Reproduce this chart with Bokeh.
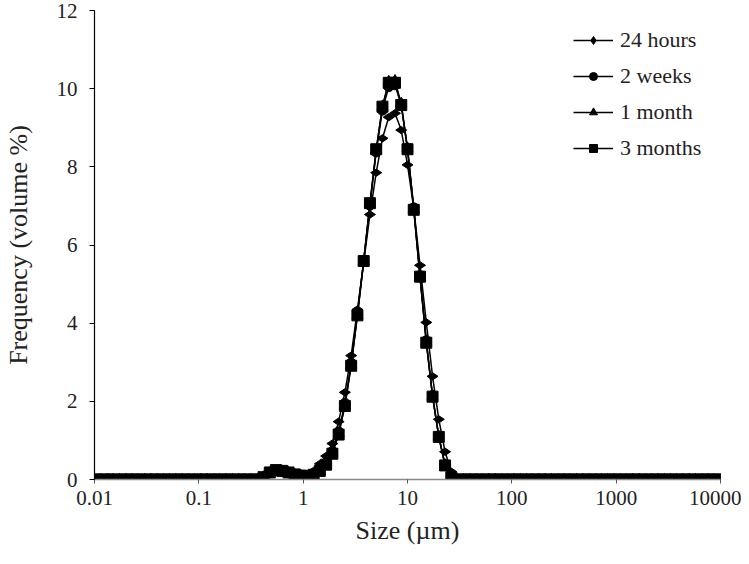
import numpy as np
from bokeh.plotting import figure
from bokeh.models import Range1d, FixedTicker, Legend, LegendItem
from bokeh.embed import file_html
from bokeh.resources import INLINE

# Size classes (µm)
sizes_um = [0.0100, 0.0115, 0.0132, 0.0151, 0.0174, 0.0200, 0.0229, 0.0263, 0.0302, 0.0347,
            0.0398, 0.0457, 0.0525, 0.0603, 0.0692, 0.0794, 0.0912, 0.105, 0.120, 0.138,
            0.158, 0.182, 0.209, 0.240, 0.275, 0.316, 0.363, 0.417, 0.479, 0.550,
            0.631, 0.724, 0.832, 0.955, 1.096, 1.259, 1.445, 1.660, 1.905, 2.188,
            2.512, 2.884, 3.311, 3.802, 4.365, 5.012, 5.754, 6.607, 7.586, 8.710,
            10.00, 11.48, 13.18, 15.14, 17.38, 19.95, 22.91, 26.30, 30.20, 34.67,
            39.81, 45.71, 52.48, 60.26, 69.18, 79.43, 91.20, 104.7, 120.2, 138.0,
            158.5, 182.0, 208.9, 239.9, 275.4, 316.2, 363.1, 416.9, 478.6, 549.5,
            631.0, 724.4, 831.8, 955.0, 1096, 1259, 1445, 1660, 1905, 2188,
            2512, 2884, 3311, 3802, 4365, 5012, 5754, 6607, 7586, 8710,
            10000]

hours_24 = [0, 0, 0, 0, 0, 0, 0, 0, 0, 0,
            0, 0, 0, 0, 0, 0, 0, 0, 0, 0,
            0, 0, 0, 0, 0, 0, 0, 0.07, 0.19, 0.25,
            0.23, 0.18, 0.14, 0.11, 0.12, 0.22, 0.40, 0.60, 0.92, 1.48,
            2.23, 3.17, 4.35, 5.55, 6.78, 7.85, 8.73, 9.27, 9.37, 8.94,
            8.05, 6.95, 5.48, 4.02, 2.64, 1.54, 0.71, 0.20, 0.02, 0,
            0, 0, 0, 0, 0, 0, 0, 0, 0, 0,
            0, 0, 0, 0, 0, 0, 0, 0, 0, 0,
            0, 0, 0, 0, 0, 0, 0, 0, 0, 0,
            0, 0, 0, 0, 0, 0, 0, 0, 0, 0,
            0]

weeks_2 = [0, 0, 0, 0, 0, 0, 0, 0, 0, 0,
           0, 0, 0, 0, 0, 0, 0, 0, 0, 0,
           0, 0, 0, 0, 0, 0, 0, 0.06, 0.17, 0.23,
           0.21, 0.17, 0.12, 0.09, 0.09, 0.13, 0.24, 0.42, 0.72, 1.22,
           1.95, 2.98, 4.25, 5.60, 7.02, 8.38, 9.45, 10.05, 10.10, 9.58,
           8.48, 6.95, 5.22, 3.55, 2.15, 1.10, 0.38, 0.06, 0, 0,
           0, 0, 0, 0, 0, 0, 0, 0, 0, 0,
           0, 0, 0, 0, 0, 0, 0, 0, 0, 0,
           0, 0, 0, 0, 0, 0, 0, 0, 0, 0,
           0, 0, 0, 0, 0, 0, 0, 0, 0, 0,
           0]

month_1 = [0, 0, 0, 0, 0, 0, 0, 0, 0, 0,
           0, 0, 0, 0, 0, 0, 0, 0, 0, 0,
           0, 0, 0, 0, 0, 0, 0, 0.06, 0.17, 0.22,
           0.21, 0.17, 0.12, 0.09, 0.08, 0.11, 0.21, 0.37, 0.68, 1.17,
           1.90, 2.93, 4.20, 5.58, 7.05, 8.42, 9.55, 10.18, 10.20, 9.62,
           8.47, 6.92, 5.18, 3.52, 2.13, 1.10, 0.37, 0.05, 0, 0,
           0, 0, 0, 0, 0, 0, 0, 0, 0, 0,
           0, 0, 0, 0, 0, 0, 0, 0, 0, 0,
           0, 0, 0, 0, 0, 0, 0, 0, 0, 0,
           0, 0, 0, 0, 0, 0, 0, 0, 0, 0,
           0]

months_3 = [0, 0, 0, 0, 0, 0, 0, 0, 0, 0,
            0, 0, 0, 0, 0, 0, 0, 0, 0, 0,
            0, 0, 0, 0, 0, 0, 0, 0.06, 0.18, 0.24,
            0.22, 0.18, 0.13, 0.10, 0.09, 0.12, 0.22, 0.38, 0.66, 1.15,
            1.88, 2.91, 4.20, 5.59, 7.07, 8.45, 9.54, 10.15, 10.15, 9.58,
            8.45, 6.90, 5.19, 3.50, 2.12, 1.09, 0.36, 0.05, 0, 0,
            0, 0, 0, 0, 0, 0, 0, 0, 0, 0,
            0, 0, 0, 0, 0, 0, 0, 0, 0, 0,
            0, 0, 0, 0, 0, 0, 0, 0, 0, 0,
            0, 0, 0, 0, 0, 0, 0, 0, 0, 0,
            0]

series_labels = ["24 hours", "2 weeks", "1 month", "3 months"]
x_ticks = [0.01, 0.1, 1, 10, 100, 1000, 10000]
x_tick_labels = ["0.01", "0.1", "1", "10", "100", "1000", "10000"]
y_ticks = [0, 2, 4, 6, 8, 10, 12]

FONT = "Liberation Serif"

p = figure(width=741, height=548, x_axis_type="log",
           x_range=Range1d(0.01, 10000), y_range=Range1d(0, 12),
           output_backend="svg", toolbar_location=None,
           min_border_left=93, min_border_right=21,
           min_border_top=10, min_border_bottom=69)
p.outline_line_color = None
p.xgrid.visible = False
p.ygrid.visible = False
p.background_fill_color = "white"
p.border_fill_color = "white"

specs = [
    (hours_24, "diamond", 11, np.pi / 2),
    (weeks_2, "circle", 10, 0.0),
    (month_1, "triangle", 11, 0.0),
    (months_3, "square", 11, 0.0),
]

items = []
for (ys, marker, size, ang), lab in zip(specs, series_labels):
    ln = p.line(sizes_um, ys, line_color="black", line_width=1.5)
    sc = p.scatter(sizes_um, ys, marker=marker, size=size, angle=ang,
                   fill_color="black", line_color="black")
    items.append(LegendItem(label=lab, renderers=[ln, sc]))

legend = Legend(items=items, location=(479, 318))
legend.background_fill_alpha = 0
legend.border_line_color = None
legend.label_text_font = FONT
legend.label_text_font_size = "22px"
legend.label_text_color = "#222222"
legend.glyph_width = 40
legend.glyph_height = 20
legend.label_height = 20
legend.label_standoff = 7
legend.spacing = 10
legend.padding = 0
legend.margin = 0
p.add_layout(legend)

# x axis
xa = p.xaxis[0]
xa.ticker = FixedTicker(ticks=x_ticks, minor_ticks=[])
xa.major_label_overrides = {t: l for t, l in zip(x_ticks, x_tick_labels)}
xa.axis_line_color = "#8a8a8a"
xa.axis_line_width = 1.5
xa.major_tick_line_color = "#555555"
xa.major_tick_out = 4
xa.major_tick_in = 0
xa.minor_tick_out = 0
xa.minor_tick_in = 0
xa.major_label_text_font = FONT
xa.major_label_text_font_size = "21px"
xa.major_label_text_color = "#222222"
xa.major_label_standoff = 7
xa.axis_label = "Size (µm)"
xa.axis_label_text_font = FONT
xa.axis_label_text_font_size = "26px"
xa.axis_label_text_font_style = "normal"
xa.axis_label_text_color = "#222222"
xa.axis_label_standoff = 8

# y axis
ya = p.yaxis[0]
ya.ticker = FixedTicker(ticks=y_ticks, minor_ticks=[])
ya.axis_line_color = "black"
ya.axis_line_width = 1.2
ya.major_tick_line_color = "black"
ya.major_tick_out = 5
ya.major_tick_in = 0
ya.minor_tick_out = 0
ya.minor_tick_in = 0
ya.major_label_text_font = FONT
ya.major_label_text_font_size = "21px"
ya.major_label_text_color = "#222222"
ya.major_label_standoff = 12
ya.axis_label = "Frequency (volume %)"
ya.axis_label_text_font = FONT
ya.axis_label_text_font_size = "26px"
ya.axis_label_text_font_style = "normal"
ya.axis_label_text_color = "#222222"
ya.axis_label_standoff = 21

open("out.html", "w").write(file_html(p, INLINE))
